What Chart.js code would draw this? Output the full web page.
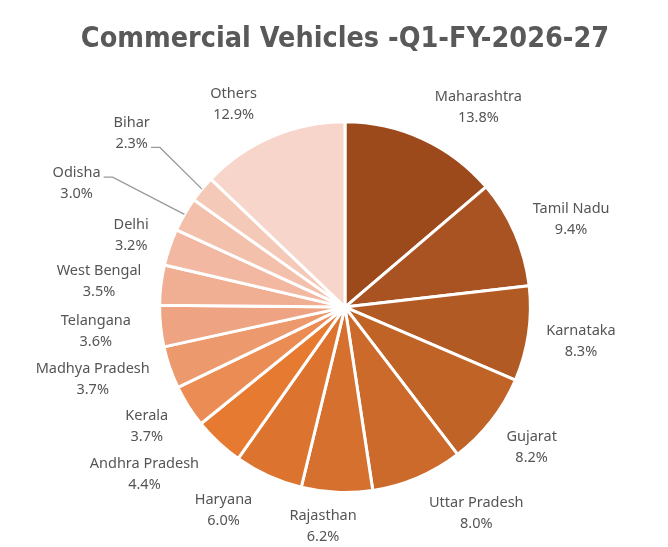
<!DOCTYPE html>
<html>
<head>
<meta charset="utf-8">
<script src="https://cdn.jsdelivr.net/npm/chart.js@4.4.1/dist/chart.umd.min.js"></script>
<style>
    html, body { margin: 0; padding: 0; background: #ffffff; }
    #wrap { width: 668px; height: 547px; }
</style>
</head>
<body>
<div id="wrap"><canvas id="cvChart"></canvas></div>
<script>
// Данные
const states = ['Maharashtra', 'Tamil Nadu', 'Karnataka', 'Gujarat', 'Uttar Pradesh', 'Rajasthan',
    'Haryana', 'Andhra Pradesh', 'Kerala', 'Madhya Pradesh', 'Telangana', 'West Bengal',
    'Delhi', 'Odisha', 'Bihar', 'Others'];
const shares = [13.8, 9.4, 8.3, 8.2, 8.0, 6.2, 6.0, 4.4, 3.7, 3.7, 3.6, 3.5, 3.2, 3.0, 2.3, 12.9];

// Цвета секторов
const sliceColors = ['#9c4a1c', '#a85321', '#b25a24', '#c06327', '#cb6a2b', '#d5702f',
    '#dc7430', '#e67a30', '#eb8c55', '#ec9a6d', '#eea482', '#f0ae92',
    '#f2b8a1', '#f3c0ac', '#f5c9b8', '#f7d5cb'];

// Подписи: сдвиг угла (град.) и отступ от края круга, как в Excel best fit
const labelShift = [8.9, 2.4, 0, -1, -9.5, 3.2, 6.5, 7, 1.3, 3.1, 0.4, -0.8, -0.4, -5.3, -0.3, -5.6];
const labelGap = [55, 57, 53, 48, 59, 35, 51, 76, 46, 77, 65, 62, 40, 110, 90, 46];
// Выноски (номер строки подписи, к которой идёт линия)
const leaderRow = [null, null, null, null, null, null, null, null, null, null, null, null, null, 0, 1, null];

const labelFont = '14.5px "Noto Sans", sans-serif';
const labelColor = '#555555';

const outsideLabels = {
    id: 'outsideLabels',
    afterDatasetsDraw(chart) {
        const ctx = chart.ctx;
        const arcs = chart.getDatasetMeta(0).data;
        ctx.save();
        ctx.font = labelFont;
        ctx.fillStyle = labelColor;
        ctx.textAlign = 'center';
        ctx.textBaseline = 'middle';
        arcs.forEach((arc, i) => {
            const p = arc.getProps(['x', 'y', 'startAngle', 'endAngle', 'outerRadius'], true);
            const mid = (p.startAngle + p.endAngle) / 2;
            const ang = mid + labelShift[i] * Math.PI / 180;
            const dist = p.outerRadius + labelGap[i];
            const lx = p.x + dist * Math.cos(ang);
            const ly = p.y + dist * Math.sin(ang);
            const lines = [states[i], shares[i].toFixed(1) + '%'];
            const ys = [ly - 10.5, ly + 10.5];
            lines.forEach((t, k) => ctx.fillText(t, lx, ys[k]));

            if (leaderRow[i] !== null) {
                const row = leaderRow[i];
                const w = ctx.measureText(lines[row]).width;
                const sx = lx + w / 2 + 3;
                const sy = ys[row] + 4;
                const ex = p.x + p.outerRadius * Math.cos(mid);
                const ey = p.y + p.outerRadius * Math.sin(mid);
                ctx.beginPath();
                ctx.strokeStyle = '#999999';
                ctx.lineWidth = 1.3;
                ctx.moveTo(sx, sy);
                ctx.lineTo(sx + 9, sy);
                ctx.lineTo(ex, ey);
                ctx.stroke();
            }
        });
        ctx.restore();
    }
};

new Chart(document.getElementById('cvChart'), {
    type: 'pie',
    data: {
        labels: states,
        datasets: [{
            data: shares,
            backgroundColor: sliceColors,
            borderColor: '#ffffff',
            borderWidth: 3,
            hoverOffset: 0
        }]
    },
    options: {
        responsive: true,
        maintainAspectRatio: false,
        animation: false,
        layout: {
            padding: { left: 40, right: 18, top: 0, bottom: 53 }
        },
        plugins: {
            legend: { display: false },
            tooltip: { enabled: false },
            title: {
                display: true,
                text: 'Commercial Vehicles -Q1-FY-2026-27',
                color: '#595959',
                font: { family: '"Liberation Sans Narrow", "DejaVu Sans Condensed", sans-serif', size: 28.5, weight: 'bold', lineHeight: 1.2 },
                padding: { top: 22, bottom: 64 }
            }
        }
    },
    plugins: [outsideLabels]
});
</script>
</body>
</html>
